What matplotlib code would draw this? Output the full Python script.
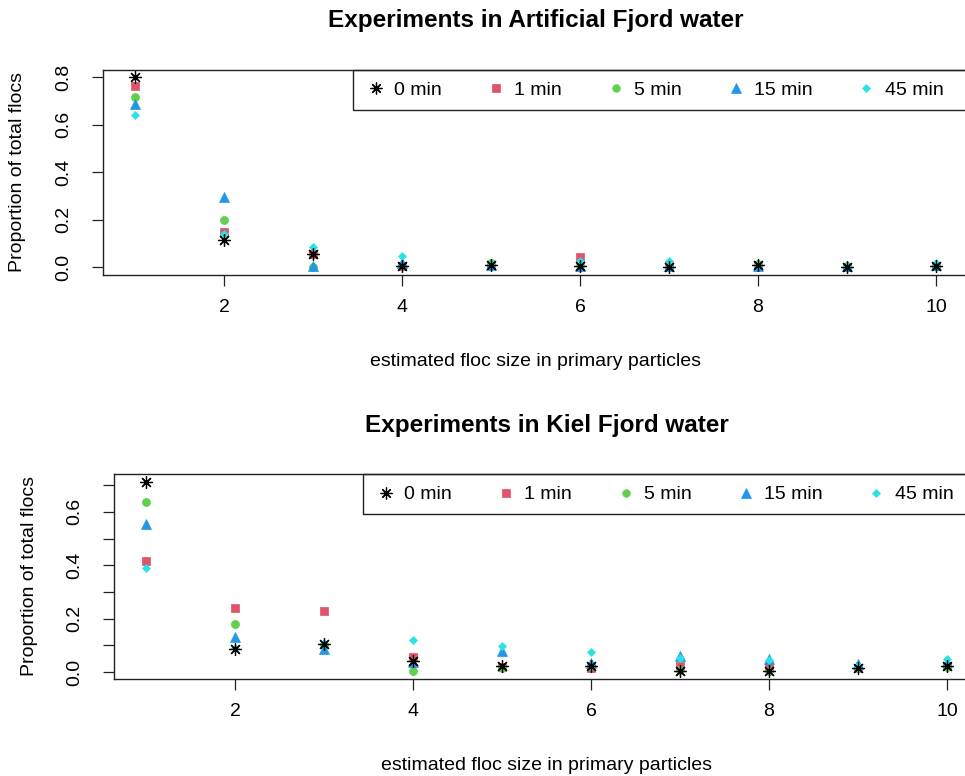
import matplotlib
matplotlib.use("Agg")
import matplotlib.pyplot as plt
from matplotlib.patches import Rectangle
from matplotlib.lines import Line2D

plt.rcParams['font.family'] = ['Liberation Sans', 'DejaVu Sans']

# ---------------- data ----------------
floc_size = [1, 2, 3, 4, 5, 6, 7, 8, 9, 10]
series_labels = ["0 min", "1 min", "5 min", "15 min", "45 min"]

artificial_0 = [0.800, 0.117, 0.058, 0.005, 0.012, 0.005, 0.003, 0.008, 0.003, 0.005]
artificial_1 = [0.762, 0.150, 0.055, 0.005, 0.012, 0.045, 0.005, 0.008, 0.003, 0.005]
artificial_5 = [0.715, 0.198, 0.000, 0.008, 0.018, 0.008, 0.005, 0.015, 0.005, 0.005]
artificial_15 = [0.686, 0.294, 0.005, 0.020, 0.012, 0.005, 0.005, 0.005, 0.005, 0.008]
artificial_45 = [0.640, 0.140, 0.085, 0.048, 0.015, 0.028, 0.028, 0.008, 0.004, 0.018]

kiel_0 = [0.713, 0.086, 0.107, 0.042, 0.022, 0.022, 0.005, 0.003, 0.014, 0.022]
kiel_1 = [0.417, 0.241, 0.228, 0.057, 0.020, 0.015, 0.022, 0.019, 0.014, 0.025]
kiel_5 = [0.638, 0.182, 0.100, 0.004, 0.015, 0.022, 0.010, 0.005, 0.014, 0.020]
kiel_15 = [0.553, 0.130, 0.085, 0.040, 0.079, 0.035, 0.060, 0.050, 0.030, 0.040]
kiel_45 = [0.388, 0.090, 0.110, 0.120, 0.097, 0.076, 0.055, 0.045, 0.025, 0.051]

x_ticks = [2, 4, 6, 8, 10]
top_yticks = [0.0, 0.2, 0.4, 0.6, 0.8]
top_ylabels = ["0.0", "0.2", "0.4", "0.6", "0.8"]
bottom_yticks = [0.0, 0.1, 0.2, 0.3, 0.4, 0.5, 0.6, 0.7]
bottom_ylabels = ["0.0", "", "0.2", "", "0.4", "", "0.6", ""]

titles = ["Experiments in Artificial Fjord water", "Experiments in Kiel Fjord water"]
xlabel = "estimated floc size in primary particles"
ylabel = "Proportion of total flocs"

# ---------------- styles ----------------
colors = ["black", "#DF536B", "#61D04F", "#2297E6", "#28E2E5"]
markers = [(8, 2, 0), "s", "o", "^", "D"]
msizes = [9.0, 5.8, 5.8, 7.0, 4.3]
zorders = [6, 3, 4, 5, 5.5]

W, H = 965, 776
fig = plt.figure(figsize=(W / 100, H / 100), dpi=100)


def px(x0, y0, x1, y1):
    return [x0 / W, 1 - y1 / H, (x1 - x0) / W, (y1 - y0) / H]


def draw(ax, data, yticks, ylabels, legend_handle_x, legend_y, box_left, box_bottom):
    for i, vals in enumerate(data):
        ax.plot(floc_size, vals, linestyle="none", marker=markers[i],
                color=colors[i], markersize=msizes[i],
                markeredgewidth=0.9 if i == 0 else 0.5,
                markeredgecolor=colors[i], zorder=zorders[i],
                label=series_labels[i], clip_on=False)
    ymax = max(max(v) for v in data)
    ymin = min(min(v) for v in data)
    r = ymax - ymin
    ax.set_ylim(ymin - 0.04 * r, ymax + 0.04 * r)
    ax.set_xlim(1 - 0.04 * 9, 10 + 0.04 * 9)
    ax.set_xticks(x_ticks)
    ax.set_xticklabels([str(t) for t in x_ticks])
    ax.set_yticks(yticks)
    ax.set_yticklabels(ylabels)
    ax.tick_params(axis="both", direction="out", length=8, width=0.9,
                   labelsize=14, color="#222222")
    ax.tick_params(axis="x", pad=9)
    ax.tick_params(axis="y", pad=14)
    for lab in ax.get_yticklabels():
        lab.set_rotation(90)
        lab.set_va("center")
    for sp in ax.spines.values():
        sp.set_linewidth(1.0)
        sp.set_color("#222222")
    # legend box (R style, anchored top-right of plot region)
    ax.add_patch(Rectangle((box_left, box_bottom), 1 - box_left, 1 - box_bottom,
                           transform=ax.transAxes, fill=False,
                           edgecolor="#222222", linewidth=1.0, zorder=7,
                           clip_on=False))
    handles = [Line2D([], [], linestyle="none", marker=markers[i], color=colors[i],
                      markersize=msizes[i] * 0.95,
                      markeredgewidth=0.9 if i == 0 else 0.5,
                      markeredgecolor=colors[i]) for i in range(5)]
    ax.legend(handles, series_labels, loc="center left",
              bbox_to_anchor=(legend_handle_x, legend_y), ncol=5, frameon=False,
              fontsize=14, handlelength=1.0, handletextpad=0.43,
              columnspacing=2.28, borderpad=0, borderaxespad=0)


ax1 = fig.add_axes(px(103, 69.5, 968, 275))
draw(ax1, [artificial_0, artificial_1, artificial_5, artificial_15, artificial_45],
     top_yticks, top_ylabels, 0.3044, 0.90, 0.289, 0.803)

ax2 = fig.add_axes(px(114, 474, 979, 679))
draw(ax2, [kiel_0, kiel_1, kiel_5, kiel_15, kiel_45],
     bottom_yticks, bottom_ylabels, 0.3032, 0.90, 0.2883, 0.805)

# titles and axis labels
fig.text(535.5 / W, 1 - 20 / H, titles[0], ha="center", va="center",
         fontsize=17.5, fontweight="bold")
fig.text(546.5 / W, 1 - 425 / H, titles[1], ha="center", va="center",
         fontsize=17.5, fontweight="bold")
fig.text(535.5 / W, 1 - 361 / H, xlabel, ha="center", va="center", fontsize=14)
fig.text(546.5 / W, 1 - 766 / H, xlabel, ha="center", va="center", fontsize=14)
fig.text(18 / W, 1 - 172 / H, ylabel, ha="center", va="center", rotation=90, fontsize=14)
fig.text(30 / W, 1 - 576 / H, ylabel, ha="center", va="center", rotation=90, fontsize=14)

fig.savefig("out.png", dpi=100)
